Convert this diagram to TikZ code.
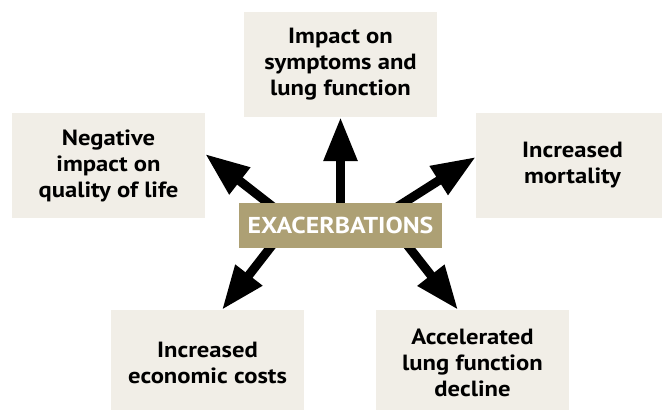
\documentclass[tikz,border=0pt]{standalone}
\usepackage{fontspec}
\setmainfont{PT Sans}
\newfontfamily\widesans[FakeStretch=1.12]{PT Sans}
\usepackage{tikz}
\usetikzlibrary{arrows.meta,backgrounds}
\definecolor{boxbeige}{RGB}{241,238,231}
\definecolor{coretan}{RGB}{173,160,116}
\tikzstyle{effectbox} = [fill=boxbeige, rectangle, minimum width=193pt, minimum height=105pt, inner sep=0pt, align=center, font=\widesans\fontsize{22}{26}\selectfont\bfseries]
\tikzstyle{corebox} = [fill=coretan, rectangle, minimum width=203pt, minimum height=45pt, inner sep=0pt, text=white, font=\widesans\fontsize{23}{26}\selectfont\bfseries]
\tikzstyle{bigarrow} = [line width=9pt, -{Triangle[length=44pt,width=32pt]}, shorten <=-8pt]

\begin{document}
\begin{tikzpicture}[x=1pt,y=-1pt]
\useasboundingbox (0,0) rectangle (662,410);
\node [corebox] (ex) at (340.5,225.5) {EXACERBATIONS};
\node [effectbox] (sympt) at (340.5,64.5) {Impact on\\symptoms and\\lung function};
\node [effectbox] (qol) at (108.5,165.5) {Negative\\impact on\\quality of life};
\node [effectbox] (mort) at (572.5,165.5) {Increased\\mortality};
\node [effectbox] (cost) at (207.5,362.5) {Increased\\economic costs};
\node [effectbox] (decl) at (472.5,362.5) {Accelerated\\lung function\\decline};
\begin{pgfonlayer}{background}
\draw [bigarrow] (ex.north) -- (sympt.south);
\draw [bigarrow] ([xshift=29pt]ex.north west) -- ([yshift=11.5pt]qol.east);
\draw [bigarrow] ([xshift=-38.5pt]ex.north east) -- ([yshift=8.5pt]mort.west);
\draw [bigarrow] ([xshift=31pt]ex.south west) -- ([xshift=14.5pt]cost.north);
\draw [bigarrow] ([xshift=-32.5pt]ex.south east) -- ([xshift=-14.5pt]decl.north);
\end{pgfonlayer}
\end{tikzpicture}
\end{document}
